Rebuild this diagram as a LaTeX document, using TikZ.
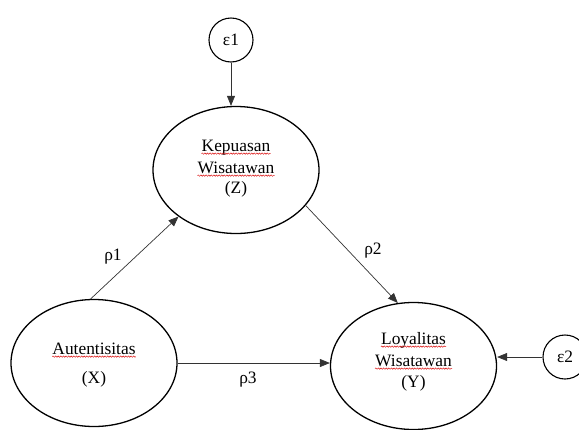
\documentclass[tikz,border=0pt]{standalone}
\usepackage{fontspec}
\setmainfont{Liberation Serif}
\usetikzlibrary{arrows.meta,shapes.geometric,decorations.pathmorphing}
\begin{document}
\begin{tikzpicture}[x=1pt,y=-1pt,
  font=\fontsize{17.4}{21.5}\selectfont,
  latent/.style={draw=black, line width=1.3pt, ellipse, inner sep=0pt,
    minimum width=166pt, minimum height=127pt},
  errc/.style={draw=black, line width=1.1pt, circle, inner sep=0pt, minimum size=44pt},
  lbl/.style={inner sep=0pt, anchor=base},
  conn/.style={draw=black!80, line width=0.7pt, -{Triangle[length=10pt,width=8pt]}},
  squig/.style={draw=red!85!black, line width=0.45pt, decorate,
    decoration={snake, amplitude=0.7pt, segment length=2.6pt}}
]
\useasboundingbox (0,0) rectangle (579,429);

% latent variables
\node[latent] (Z) at (236,170) {};
\node[latent] (X) at (94,363) {};
\node[latent] (Y) at (413.5,366) {};

% error terms
\node[errc] (e1) at (231,40) {ε1};
\node[errc] (e2) at (565,357) {ε2};

% texts
\node[lbl] (z1) at (236,151) {Kepuasan};
\node[lbl] (z2) at (236,173) {Wisatawan};
\node[lbl] (z3) at (236,193) {(Z)};
\node[lbl] (x1) at (94,354) {Autentisitas};
\node[lbl] (x2) at (94,383) {(X)};
\node[lbl] (y1) at (413.5,344) {Loyalitas};
\node[lbl] (y2) at (413.5,366) {Wisatawan};
\node[lbl] (y3) at (413.5,387) {(Y)};

% spell-check underlines
\foreach \n in {z1,z2,x1,y1,y2}{
  \draw[squig] ([yshift=-2.6pt]\n.base west) -- ([yshift=-2.6pt]\n.base east);
}

% path labels
\node (r1) at (113,257) {ρ1};
\node (r2) at (373,251) {ρ2};
\node (r3) at (248,380) {ρ3};

% connectors
\draw[conn] (e1.south) -- (e1.south |- Z.north);
\draw[conn] (X.93) -- (Z.219);
\draw[conn] (Z.-27.5) -- (Y.104);
\draw[conn] (X.east) -- (X.east -| Y.west);
\draw[conn] (e2.west) -- (e2.west -| Y.east);
\end{tikzpicture}
\end{document}
